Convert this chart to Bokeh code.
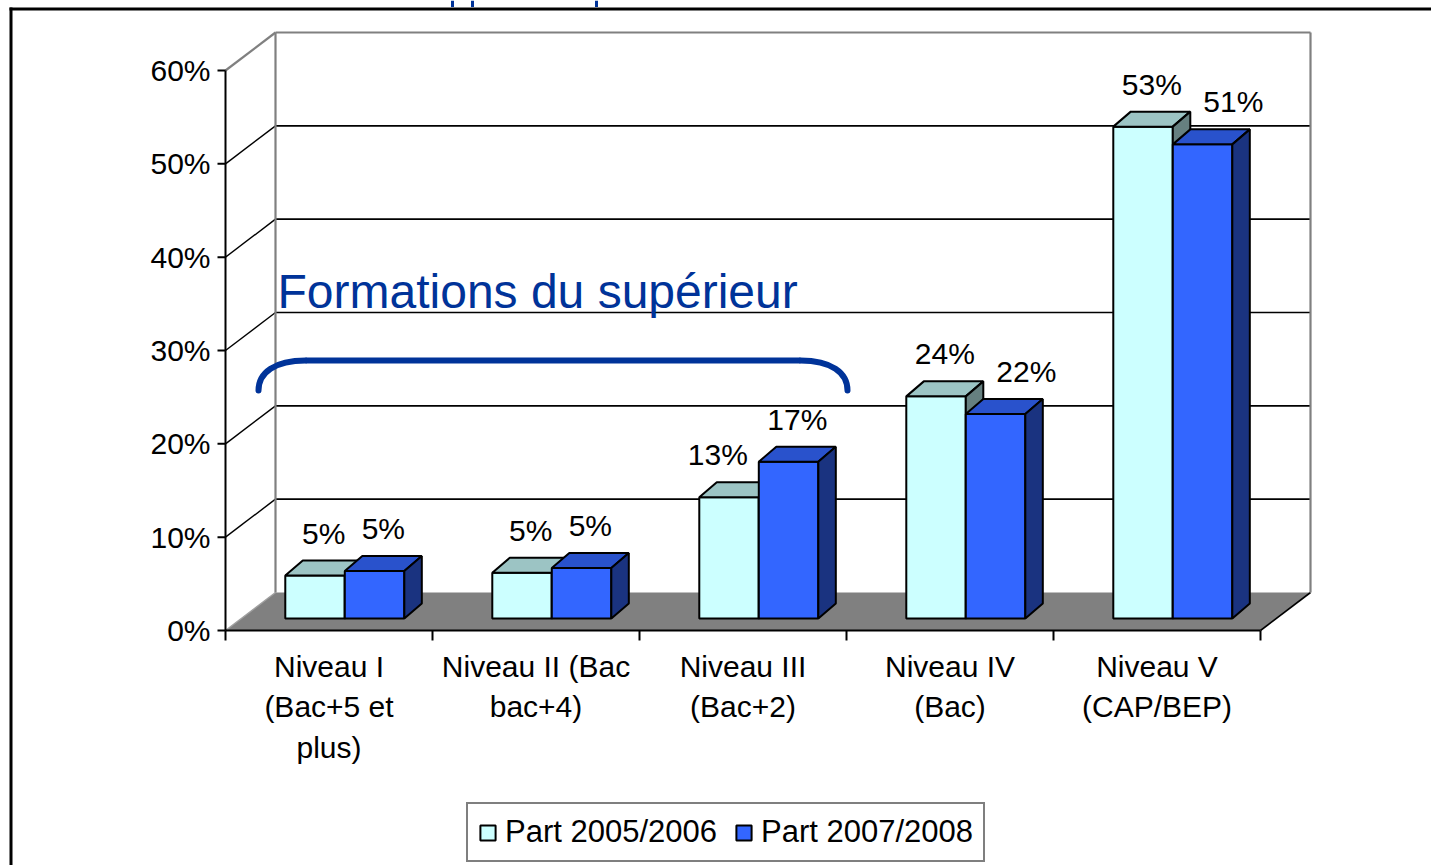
import numpy as np
from bokeh.plotting import figure
from bokeh.models import Range1d, Legend, LegendItem
from bokeh.core.properties import value
from bokeh.embed import file_html
from bokeh.resources import INLINE

# ---------------- data ----------------
categories = ["Niveau I\n(Bac+5 et\nplus)", "Niveau II (Bac\nbac+4)", "Niveau III\n(Bac+2)",
              "Niveau IV\n(Bac)", "Niveau V\n(CAP/BEP)"]
part_2005_2006 = [4.6, 4.9, 13.0, 23.8, 52.7]
part_2007_2008 = [5.1, 5.4, 16.8, 21.9, 50.8]
series_names = ["Part 2005/2006", "Part 2007/2008"]
y_ticks = [0, 10, 20, 30, 40, 50, 60]
y_tick_labels = ["0%", "10%", "20%", "30%", "40%", "50%", "60%"]
annotation_text = "Formations du supérieur"
annotation_span = (0, 3)      # the three first categories

# ---------------- layout / style ----------------
W, H = 1431, 865
OX, OY = 225, 630             # canvas px of the chart origin (front plane, 0%)
CAT_PX = 207.0                # px per category
PCT_PX = 560.0 / 60.0         # px per percent
FONT_NAME = "Liberation Sans"
FONT = value(FONT_NAME)
BLUE = "#003399"
LIGHT = ("#CCFFFF", "#9CC4C4", "#668080")
DARK = ("#3366FF", "#2952CC", "#1A3380")


def ux(px):
    return px / CAT_PX


def uy(px):
    return px / PCT_PX


def cx(cpx):
    return (cpx - OX) / CAT_PX


def cy(cpy):
    return (OY - cpy) / PCT_PX


n = len(categories)
DX, DY = ux(50), uy(38)       # wall depth
BFX, BFY = ux(15.8), uy(12)   # bar front offset
BDX, BDY = ux(17.5), uy(15)   # bar depth
GROUP = 0.575
BW = GROUP / 2

p = figure(width=W, height=H, x_range=Range1d(cx(0), cx(W)), y_range=Range1d(cy(H), cy(0)),
           output_backend="svg", toolbar_location=None, min_border=0,
           x_axis_type=None, y_axis_type=None)
p.outline_line_color = None
p.background_fill_color = "white"
p.border_fill_color = "white"

# cut-off slide title above the frame (only descenders visible)
p.segment(x0=[cx(452), cx(472), cx(596)], y0=[cy(0)] * 3, x1=[cx(452), cx(472), cx(596)],
          y1=[cy(6.5)] * 3, line_color=BLUE, line_width=3)

# outer border (top, left)
p.segment(x0=[cx(9), cx(10.5)], y0=[cy(8.5), cy(7)], x1=[cx(W), cx(10.5)], y1=[cy(8.5), cy(H)],
          line_color="black", line_width=3)

# floor
p.patch([0, DX, n + DX, n], [0, DY, DY, 0], fill_color="#808080", line_color=None)
p.segment(x0=[0], y0=[0], x1=[DX], y1=[DY], line_color="#A0A0A0", line_width=1.5)
p.segment(x0=[n], y0=[0], x1=[n + DX], y1=[DY], line_color="black", line_width=1.6)

# gridlines (back wall + left wall)
inner = [t for t in y_ticks if 0 < t < max(y_ticks)]
p.segment(x0=[DX] * len(inner), y0=[t + DY for t in inner], x1=[n + DX] * len(inner),
          y1=[t + DY for t in inner], line_color="black", line_width=1.6)
p.segment(x0=[0] * len(inner), y0=inner, x1=[DX] * len(inner), y1=[t + DY for t in inner],
          line_color="black", line_width=1.4)
top = max(y_ticks)
p.segment(x0=[0, DX, DX, n + DX], y0=[top, top + DY, DY, DY],
          x1=[DX, n + DX, DX, n + DX], y1=[top + DY, top + DY, top + DY, top + DY],
          line_color="#808080", line_width=2.2)

# axes
p.segment(x0=[0, 0], y0=[0, 0], x1=[0, n], y1=[top, 0], line_color="black", line_width=2)
p.segment(x0=[-ux(8)] * len(y_ticks), y0=y_ticks, x1=[0] * len(y_ticks), y1=y_ticks,
          line_color="black", line_width=2)
p.segment(x0=list(range(n + 1)), y0=[0] * (n + 1), x1=list(range(n + 1)), y1=[-uy(10)] * (n + 1),
          line_color="black", line_width=2)
p.text(x=[-ux(15)] * len(y_ticks), y=y_ticks, text=y_tick_labels, text_font=FONT,
       text_font_size="30px", text_align="right", text_baseline="middle", text_color="black")
p.text(x=[i + 0.5 for i in range(n)], y=[-uy(19)] * n, text=categories, text_font=FONT,
       text_font_size="30px", text_align="center", text_baseline="top", text_color="black",
       text_line_height=1.24)

# bars
renderers = []
for s, (vals, cols) in enumerate([(part_2005_2006, LIGHT), (part_2007_2008, DARK)]):
    fx, fy, tx, ty, sx, sy = [], [], [], [], [], []
    for i, v in enumerate(vals):
        x0 = i + 0.5 - GROUP / 2 + s * BW + BFX
        x1 = x0 + BW
        y0, y1 = BFY, v + BFY
        fx.append([x0, x1, x1, x0]); fy.append([y0, y0, y1, y1])
        tx.append([x0, x1, x1 + BDX, x0 + BDX]); ty.append([y1, y1, y1 + BDY, y1 + BDY])
        sx.append([x1, x1 + BDX, x1 + BDX, x1]); sy.append([y0, y0 + BDY, y1 + BDY, y1])
    r = p.patches(fx, fy, fill_color=cols[0], line_color="black", line_width=2)
    p.patches(tx, ty, fill_color=cols[1], line_color="black", line_width=2)
    p.patches(sx, sy, fill_color=cols[2], line_color="black", line_width=2)
    renderers.append(r)

# value labels
lx, ly, lt = [], [], []
pairs = list(zip(part_2005_2006, part_2007_2008))
for s, vals in enumerate([part_2005_2006, part_2007_2008]):
    for i, v in enumerate(vals):
        other = pairs[i][1 - s]
        x = i + 0.5 - GROUP / 2 + s * BW + BW / 2 + BFX + BDX / 2
        if other - v > 1:
            x += ux(-20) if s == 0 else ux(22)
        lx.append(x)
        ly.append(v + BFY + BDY / 2 + uy(35))
        lt.append(f"{int(np.floor(v + 0.5)):d}%")
p.text(x=lx, y=ly, text=lt, text_font=FONT, text_font_size="30px", text_align="center",
       text_baseline="middle", text_color="black")

# annotation: bracket + text
a0 = annotation_span[0] + ux(33)
a1 = annotation_span[1] + ux(1)
yb, ye = cy(360), cy(390)
rx = ux(47)
p.segment(x0=[a0 + rx], y0=[yb], x1=[a1 - rx], y1=[yb], line_color=BLUE, line_width=6)
p.bezier(x0=[a0, a1], y0=[ye, ye], x1=[a0 + rx, a1 - rx], y1=[yb, yb],
         cx0=[a0, a1], cy0=[ye + (yb - ye) * 0.6, ye + (yb - ye) * 0.6],
         cx1=[a0 + rx * 0.35, a1 - rx * 0.35], cy1=[yb, yb],
         line_color=BLUE, line_width=6, line_cap="round")
p.text(x=[ux(52)], y=[cy(291)], text=[annotation_text], text_font=FONT, text_font_size="48px",
       text_align="left", text_baseline="middle", text_color=BLUE)

# legend
legend = Legend(items=[LegendItem(label=series_names[k], renderers=[renderers[k]]) for k in range(2)],
                orientation="horizontal", location=(466, 3), label_text_font=FONT_NAME,
                label_text_font_size="31px", label_text_color="black",
                glyph_width=19, glyph_height=19, label_standoff=8,
                spacing=17, padding=10, margin=0, border_line_color="black", border_line_width=2,
                background_fill_color="white", background_fill_alpha=1.0)
p.add_layout(legend, "center")

open("out.html", "w").write(file_html(p, INLINE))
